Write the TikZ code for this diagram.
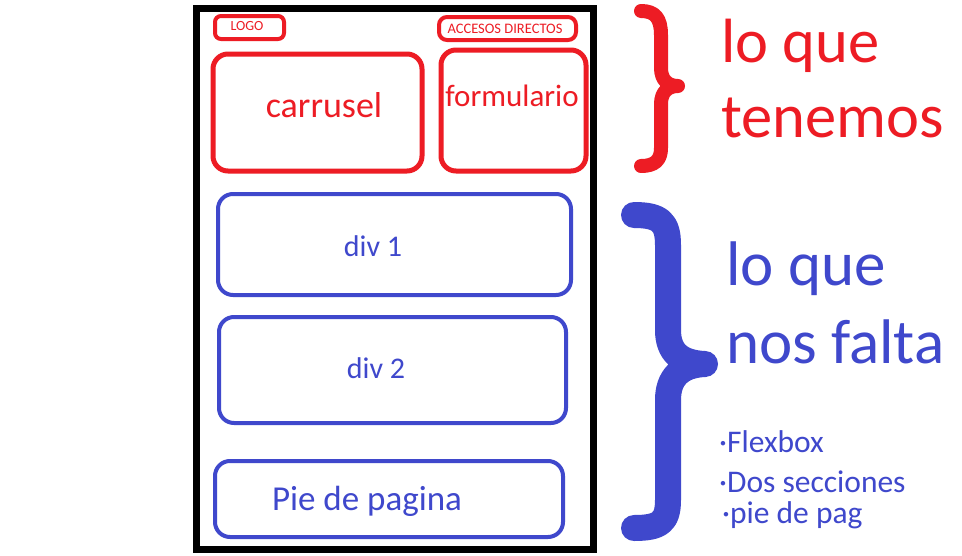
\documentclass[tikz,border=0pt]{standalone}
\usepackage{fontspec}
\setmainfont{Carlito}
\definecolor{pred}{HTML}{ED1C24}
\definecolor{pblue}{HTML}{3F48CC}
\newcommand{\fs}[1]{\fontsize{#1}{#1}\selectfont}
\begin{document}
\begin{tikzpicture}[x=1pt,y=-1pt,
  rbox/.style={draw=pred, line width=5pt, rounded corners=15pt, inner sep=0pt, rectangle},
  bbox/.style={draw=pblue, line width=4pt, rounded corners=15pt, inner sep=0pt, rectangle},
  rtxt/.style={text=pred, inner sep=0pt, anchor=base},
  btxt/.style={text=pblue, inner sep=0pt, anchor=base},
  rbig/.style={text=pred, inner sep=0pt, anchor=base west, font=\fs{62.5}},
  bbig/.style={text=pblue, inner sep=0pt, anchor=base west, font=\fs{63}},
  bsmall/.style={text=pblue, inner sep=0pt, anchor=base west, font=\fs{31.5}}]
\fill[white] (0,0) rectangle (962,555);
\useasboundingbox (0,0) rectangle (962,555);
% frame
\draw[line width=7pt] (196,8) rectangle (593,549);
% red boxes
\node[rbox, line width=4pt, rounded corners=6pt, minimum width=69pt, minimum height=23pt] (logo) at (249.5,27.5) {};
\node[rbox, line width=4pt, rounded corners=8pt, minimum width=137pt, minimum height=23pt] (acc) at (507.5,28.5) {};
\node[rbox, minimum width=209pt, minimum height=117pt] (carr) at (317.5,112.5) {};
\node[rbox, minimum width=145pt, minimum height=121pt] (form) at (513.5,110.5) {};
\node[rtxt, font=\fs{14}] (logot) at (247,30) {LOGO};
\node[rtxt, font=\fs{14.5}] (acct) at (505,33) {ACCESOS DIRECTOS};
\node[rtxt, font=\fs{36}] (carrt) at (324,117) {carrusel};
\node[rtxt, font=\fs{31}] (formt) at (512,106) {formulario};
% blue boxes
\node[bbox, minimum width=353pt, minimum height=101pt] (div1) at (394.5,244.5) {};
\node[bbox, minimum width=347pt, minimum height=106pt] (div2) at (392.5,370) {};
\node[bbox, minimum width=348pt, minimum height=76pt] (pie) at (389,499) {};
\node[btxt, font=\fs{30}] (div1t) at (373,256) {div 1};
\node[btxt, font=\fs{30}] (div2t) at (376,378) {div 2};
\node[btxt, font=\fs{35}] (piet) at (367,510) {Pie de pagina};
% braces
\draw[pred, line width=14pt, line cap=round, line join=round]
  (641,11) .. controls (655,11) and (661,18) .. (661,35) -- (661,68)
  .. controls (661,80) and (668,86) .. (678,86)
  .. controls (668,86) and (661,92) .. (661,104) -- (661,148)
  .. controls (661,160) and (655,166) .. (641,166);
\draw[pblue, line width=26pt, line cap=round, line join=round]
  (634,215) .. controls (660,215) and (668,222) .. (668,245) -- (668,330)
  .. controls (668,352) and (680,363) .. (705,364)
  .. controls (680,365) and (668,378) .. (668,400) -- (668,500)
  .. controls (668,522) and (660,528) .. (634,528);
% right texts
\node[rbig] (t1) at (721,62) {lo que};
\node[rbig] (t2) at (721,137) {tenemos};
\node[bbig] (t3) at (726,285) {lo que};
\node[bbig] (t4) at (726,363) {nos falta};
\node[bsmall] (b1) at (719,452) {·Flexbox};
\node[bsmall] (b2) at (719,492) {·Dos secciones};
\node[bsmall] (b3) at (722,523) {·pie de pag};
\end{tikzpicture}
\end{document}
